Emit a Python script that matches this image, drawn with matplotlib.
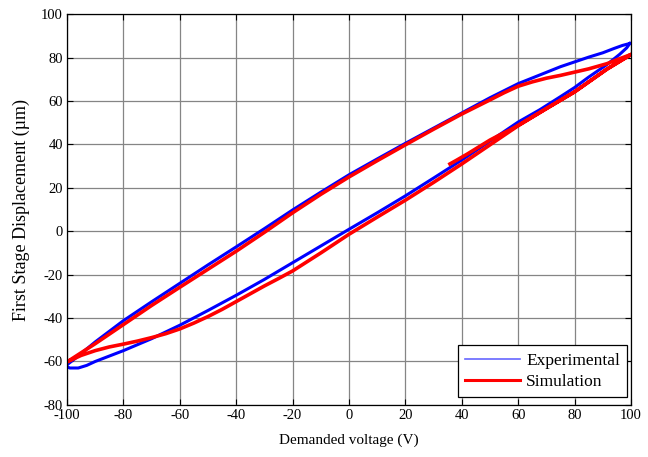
import matplotlib
matplotlib.use('Agg')
import matplotlib.pyplot as plt
from matplotlib.lines import Line2D

plt.rcParams['font.family'] = ['Liberation Serif', 'DejaVu Serif']
plt.rcParams['axes.unicode_minus'] = False

# Experimental loop (blue): tip -> upper branch down to -100 -> lower branch back up to tip
exp_v = [99.6, 97, 94, 90, 85, 80, 75, 70, 65, 60, 50, 40, 30, 20, 10, 0,
         -10, -20, -30, -40, -50, -60, -70, -80, -90, -97, -100, -100.5,
         -99, -96, -93, -90, -85, -80, -70, -60, -50, -40, -30, -20, -10,
         0, 10, 20, 30, 40, 50, 60, 67.7, 75, 80, 85, 91.5, 96, 98.5, 99.6]
exp_d = [86.5, 85.6, 84.2, 82.2, 80.2, 78.0, 75.8, 73.2, 70.6, 68.0, 61.5, 54.5, 47.5, 40.5, 33.3, 26.0,
         18.0, 9.8, 1.2, -7.2, -15.5, -24.0, -32.5, -41.2, -51.0, -58.5, -61.5, -62.2,
         -63.0, -63.0, -61.8, -60.0, -57.5, -55.0, -49.5, -43.3, -36.5, -29.5, -22.2, -14.5, -6.8,
         0.9, 8.5, 16.3, 24.5, 32.8, 41.5, 50.3, 56.0, 62.0, 66.2, 71.0, 76.8, 81.5, 84.5, 86.5]

# Simulation (red): initial loading curve -> upper branch down -> lower branch back up
sim_v = [35.8, 38, 42, 46.5, 50, 53.5, 57, 60, 70, 80, 91.5, 100,
         95, 91.5, 85, 80, 75, 70, 65, 60, 55, 50, 40, 30, 20, 10, 0,
         -10, -20, -30, -40, -50, -60, -70, -80, -90, -100,
         -95, -90, -85, -80, -75, -70, -65, -60, -55, -50, -45, -40, -35, -30, -25, -20,
         -10, 0, 10, 20, 30, 40, 50, 60, 70, 80, 91.5, 100]
sim_d = [31.0, 32.6, 35.6, 39.2, 42.0, 44.4, 46.6, 48.8, 56.5, 64.2, 74.7, 81.4,
         79.0, 77.2, 74.8, 73.3, 71.8, 70.5, 68.8, 66.8, 63.8, 60.5, 54.0, 47.0, 39.8, 32.5, 25.0,
         17.0, 8.5, -0.5, -9.2, -17.5, -25.8, -34.2, -43.0, -51.8, -60.2,
         -57.2, -55.0, -53.3, -52.0, -50.6, -49.0, -47.2, -45.0, -42.3, -39.3, -36.0, -32.4, -28.8, -25.2, -21.8, -18.3,
         -10.0, -1.4, 6.5, 14.3, 22.5, 31.0, 39.8, 48.6, 56.5, 64.2, 74.7, 81.4]

xticks = list(range(-100, 101, 20))
yticks = list(range(-80, 101, 20))

fig = plt.figure(figsize=(6.48, 4.57), dpi=100)
ax = fig.add_axes([0.1034, 0.114, 0.8703, 0.855])

ax.plot(exp_v, exp_d, color='#0000ff', linewidth=2.2, solid_joinstyle='round')
ax.plot(sim_v, sim_d, color='#ff0000', linewidth=2.6, solid_joinstyle='round')

ax.set_xlim(-100, 100)
ax.set_ylim(-80, 100)
ax.set_xticks(xticks)
ax.set_yticks(yticks)
ax.grid(True, color='#858585', linewidth=0.9, linestyle='-')
ax.set_axisbelow(True)
ax.tick_params(direction='in', top=True, right=True, length=4, width=0.8,
               labelsize=10.5, colors='black', pad=3)
for s in ax.spines.values():
    s.set_linewidth(0.9)
    s.set_color('black')

ax.set_xlabel('Demanded voltage (V)', fontsize=11, labelpad=8)
ax.set_ylabel('First Stage Displacement (\u00b5m)', fontsize=13, labelpad=8)

handles = [Line2D([], [], color='#6666ff', linewidth=1.2),
           Line2D([], [], color='#ff0000', linewidth=2.2)]
leg = ax.legend(handles, ['Experimental', 'Simulation'], loc='lower right',
                bbox_to_anchor=(0.993, 0.0205), borderaxespad=0, fontsize=12.5,
                fancybox=False, framealpha=1, edgecolor='black', handlelength=3.2,
                borderpad=0.4, labelspacing=0.3, handletextpad=0.35)
leg.get_frame().set_linewidth(0.9)

fig.savefig('out.png', dpi=100)
